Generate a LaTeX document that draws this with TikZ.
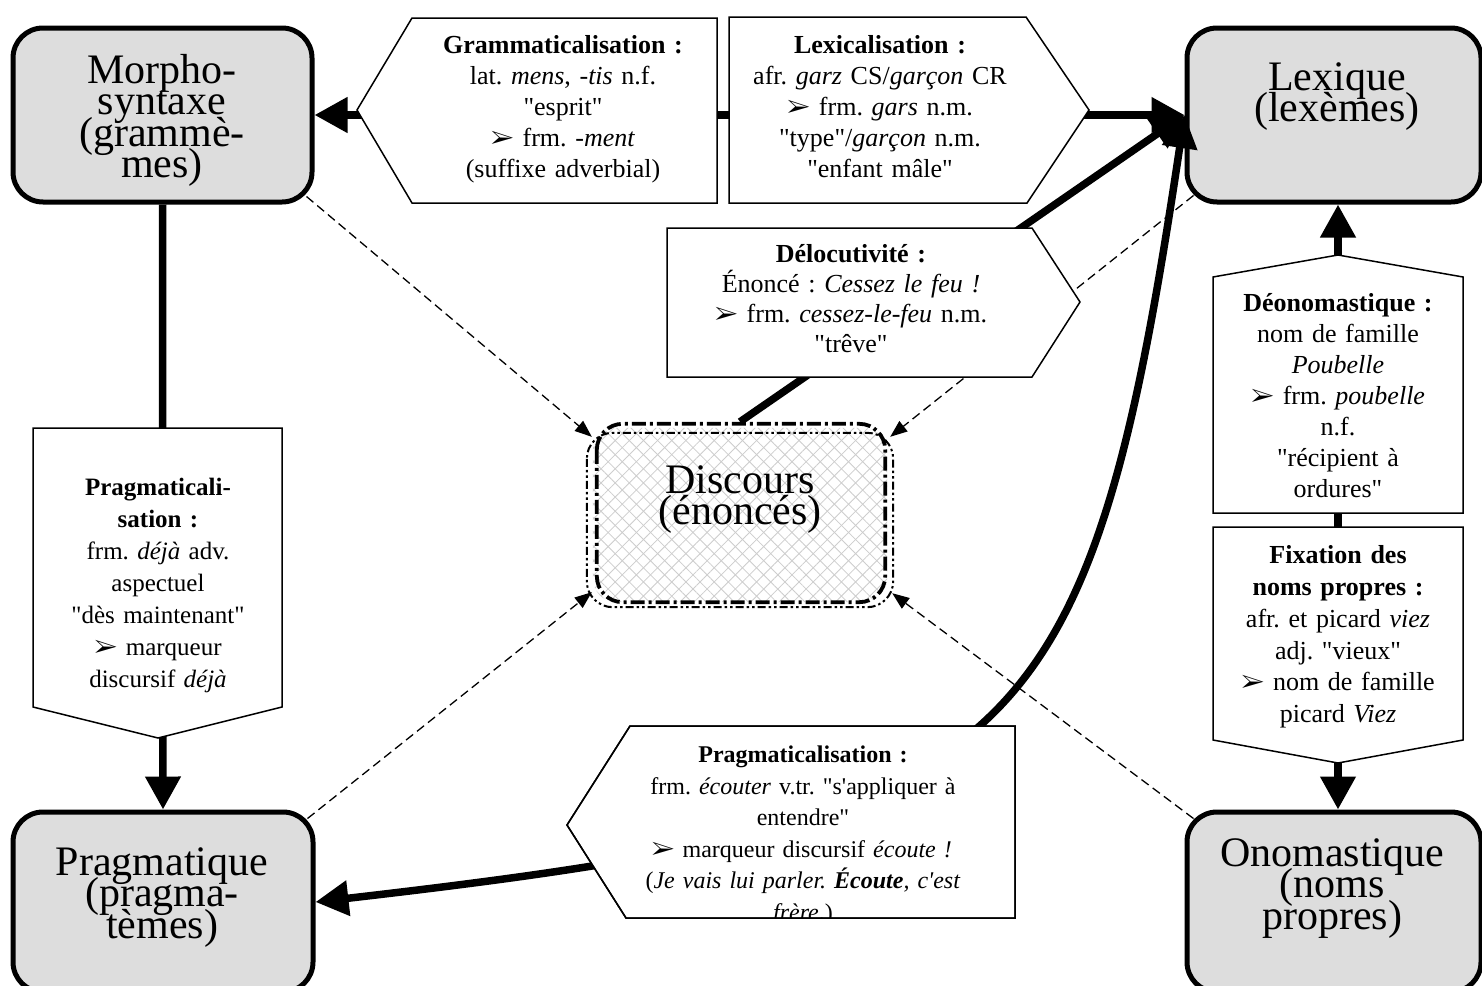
\documentclass[tikz,border=0pt]{standalone}
\usepackage{fontspec}
\usepackage{pifont}
\setmainfont{Liberation Serif}[Ligatures=TeXOff]
\usetikzlibrary{arrows.meta,patterns.meta,calc}
\definecolor{boxgrey}{RGB}{221,221,221}
\definecolor{hatchgrey}{RGB}{205,205,205}
\newcommand{\arr}{{\fontsize{25}{25}\selectfont\ding{226}}}
\newcommand{\sm}[1]{\smash{#1}}
\frenchspacing
\begin{document}
\begin{tikzpicture}[x=1pt,y=-1pt,
  tri/.tip={Triangle[length=33pt,width=34pt]},
  smalltri/.tip={Triangle[length=17pt,width=13pt]},
  mainbox/.style={draw, line width=5pt, rounded corners=30pt, fill=boxgrey, inner sep=0pt},
  maintext/.style={anchor=north, align=center, text width=290pt, inner sep=0pt,
    font=\fontsize{42}{31.5}\selectfont},
  tboxline/.style={draw, fill=white, line width=1.5pt, line join=miter},
  tboxtext/.style={anchor=north, align=center, inner sep=0pt,
    font=\fontsize{26}{31}\selectfont},
  bigline/.style={line width=7.5pt},
  dashline/.style={line width=1.3pt, dash pattern=on 9pt off 5pt, -smalltri}
]
\useasboundingbox (0,0) rectangle (1482,985);
\clip (0,0) rectangle (1482,985);
\fill[white] (0,0) rectangle (1482,985);

% Discours node (centre)
\node[minimum width=310pt, minimum height=186pt, inner sep=0pt] (D) at (740,515) {};
\path[rounded corners=24pt, pattern={Lines[angle=45,distance=10pt,line width=.8pt]}, pattern color=hatchgrey]
  ([shift={(8,6)}]D.north west) rectangle ([shift={(-8,-6)}]D.south east);
\path[rounded corners=24pt, pattern={Lines[angle=-45,distance=10pt,line width=.8pt]}, pattern color=hatchgrey]
  ([shift={(8,6)}]D.north west) rectangle ([shift={(-8,-6)}]D.south east);
\draw[line width=3.8pt, dash pattern=on 14pt off 4pt on 3pt off 4pt, rounded corners=26pt]
  ([shift={(12,2)}]D.north west) rectangle ([shift={(-10,-6)}]D.south east);
\draw[line width=2pt, dash pattern=on 8pt off 3pt on 2.5pt off 3pt on 2.5pt off 3pt, rounded corners=26pt]
  ([shift={(2,11)}]D.north west) rectangle ([shift={(-2,-1)}]D.south east);

% main boxes
\node[mainbox, minimum width=299pt, minimum height=174pt] (M) at (162.5,115) {};
\node[mainbox, minimum width=294pt, minimum height=174pt] (L) at (1334,115) {};
\node[mainbox, minimum width=300pt, minimum height=180pt] (P) at (163,902) {};
\node[mainbox, minimum width=294pt, minimum height=180pt] (O) at (1334,902) {};

% thick connectors
\draw[bigline, tri-tri] (M.east) -- (L.west);
\draw[bigline, -tri] (M.south) -- (P.north);
\draw[bigline, tri-tri] ([xshift=4pt]O.north) -- ([xshift=4pt]L.south);
\draw[bigline, -tri] (D.north) -- (L.west);
\draw[bigline, tri-tri] (P.east) .. controls (1018,821) and (1087.5,765) .. (L.west);

% dashed connectors
\draw[dashline] ([shift={(-8,-8)}]M.south east) -- ([shift={(7,15)}]D.north west);
\draw[dashline] ([shift={(9,-9)}]L.south west) -- ([shift={(-5,15)}]D.north east);
\draw[dashline] ([shift={(-8,9)}]P.north east) -- ([shift={(7,-16)}]D.south west);
\draw[dashline] ([shift={(9,9)}]O.north west) -- ([shift={(-3,-15)}]D.south east);

% text boxes (shapes)
\path[tboxline] (357,110) -- (412,18) -- (717,18) -- (717,203) -- (412,203) -- cycle;
\path[tboxline] (729,17) -- (1026,17) -- (1089,110) -- (1027,203) -- (729,203) -- cycle;
\path[tboxline] (667,228) -- (1032,228) -- (1080,302) -- (1032,377) -- (667,377) -- cycle;
\path[tboxline] (1213,513) -- (1213,277) -- (1338,255) -- (1463,277) -- (1463,513) -- cycle;
\path[tboxline] (1213,527) -- (1463,527) -- (1463,740) -- (1338,763) -- (1213,740) -- cycle;
\path[tboxline] (33,428) -- (282,428) -- (282,707) -- (158,738) -- (33,707) -- cycle;
\path[tboxline] (567,825) -- (630,726) -- (1015,726) -- (1015,918) -- (626,918) -- cycle;

% texts of text boxes
\node[tboxtext, text width=300pt] (gram) at (563,35) {\textbf{Grammaticalisation :}\\
lat. \textit{mens}, -\textit{tis} n.f.\\
"esprit"\\
\arr\ frm. -\textit{ment}\\
(suffixe adverbial)};
\node[tboxtext, text width=290pt] (lexi) at (880,35.4) {\textbf{Lexicalisation :}\\
afr. \textit{garz} CS/\textit{garçon} CR\\
\arr\ frm. \textit{gars} n.m.\\
"type"/\textit{garçon} n.m.\\
"enfant mâle"};
\node[tboxtext, text width=340pt, font=\fontsize{26}{30}\selectfont] (deloc) at (851,244.5) {\textbf{Délocutivité :}\\
Énoncé : \textit{Cessez le feu !}\\
\arr\ frm. \textit{cessez-le-feu} n.m.\\
"trêve"};
\node[tboxtext, text width=240pt] (denom) at (1338,293.5) {\textbf{Déonomastique :}\\
nom de famille\\
\textit{Poubelle}\\
\arr\ frm. \textit{poubelle}\\
n.f.\\
"récipient à\\
ordures"};
\node[tboxtext, text width=240pt, font=\fontsize{26}{31.8}\selectfont] (fix) at (1338,545.4) {\textbf{Fixation des}\\
\textbf{noms propres :}\\
afr. et picard \textit{viez}\\
adj. "vieux"\\
\arr\ nom de famille\\
picard \textit{Viez}};
\node[tboxtext, text width=240pt, font=\fontsize{25}{32}\selectfont] (pragl) at (158,478) {\textbf{Pragmaticali-}\\
\textbf{sation :}\\
frm. \textit{déjà} adv.\\
aspectuel\\
"dès maintenant"\\
\arr\ marqueur\\
discursif \textit{déjà}};
\begin{scope}
\clip (567,825) -- (630,726) -- (1015,726) -- (1015,918) -- (626,918) -- cycle;
\node[tboxtext, text width=360pt, font=\fontsize{24}{31.5}\selectfont] (pragb) at (803,746) {\textbf{Pragmaticalisation :}\\
frm. \textit{écouter} v.tr. "s'appliquer à\\
entendre"\\
\makebox[303pt][s]{\arr\ marqueur discursif \textit{écoute !}}\\
(\textit{Je vais lui parler. \textbf{Écoute}, c'est}\\
\textit{frère}.)};
\end{scope}
\path[draw, line width=1.5pt, line join=miter] (567,825) -- (630,726) -- (1015,726) -- (1015,918) -- (626,918) -- cycle;

% texts of main boxes (anchor north = first baseline, lines smashed)
\node[maintext] (Mt) at (162,83) {\sm{Morpho-}\\\sm{syntaxe}\\\sm{(grammè-}\\\sm{mes)}};
\node[maintext] (Lt) at (1337,90) {\sm{Lexique}\\\sm{(lexèmes)}};
\node[maintext] (Pt) at (162,875) {\sm{Pragmatique}\\\sm{(pragma-}\\\sm{tèmes)}};
\node[maintext] (Ot) at (1332,866) {\sm{Onomastique}\\\sm{(noms}\\\sm{propres)}};
\node[maintext] (Dt) at (740,493) {\sm{Discours}\\\sm{(énoncés)}};
\end{tikzpicture}
\end{document}
